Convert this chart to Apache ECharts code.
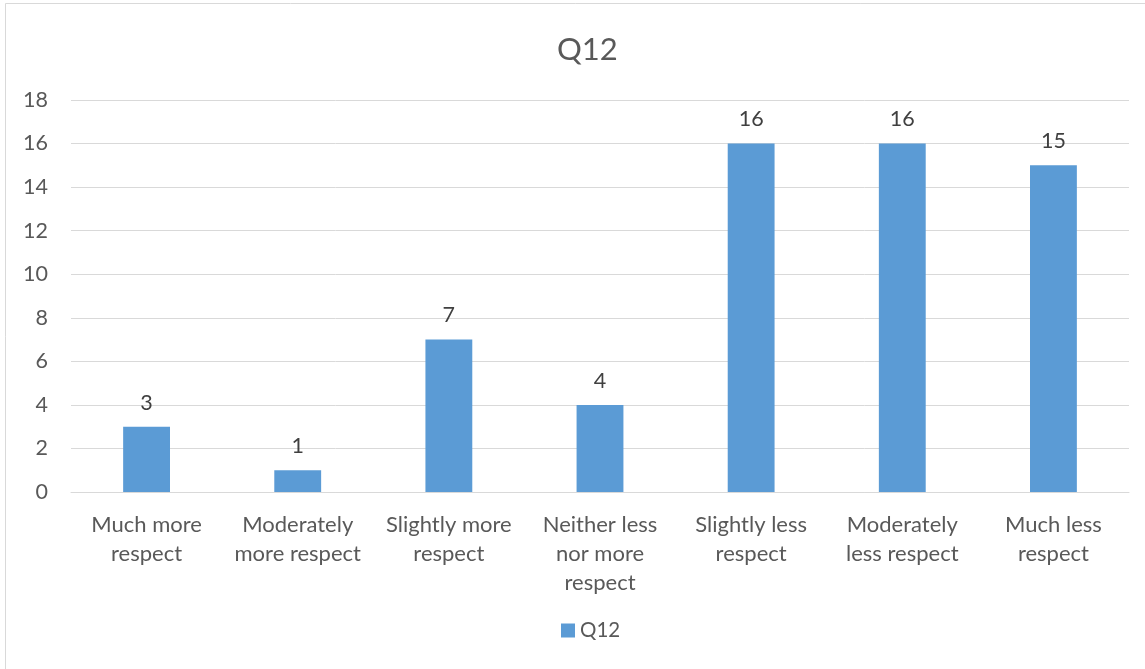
<!DOCTYPE html>
<html>
<head>
<meta charset="utf-8">
<script src="https://cdn.jsdelivr.net/npm/echarts@6/dist/echarts.min.js"></script>
<style>
  html, body { margin: 0; padding: 0; background: #fff; }
  #chart { width: 1145px; height: 669px; }
</style>
</head>
<body>
<div id="chart"></div>
<script>
// Responses to Q12
const categories = [
  'Much more\nrespect',
  'Moderately\nmore respect',
  'Slightly more\nrespect',
  'Neither less\nnor more\nrespect',
  'Slightly less\nrespect',
  'Moderately\nless respect',
  'Much less\nrespect'
];
const counts = [3, 1, 7, 4, 16, 16, 15];
const seriesName = 'Q12';
const yTicks = { min: 0, max: 18, interval: 2 };

const FONT = 'Lato, "Open Sans", sans-serif';
const TEXT = '#595959';

const chart = echarts.init(document.getElementById('chart'));
chart.setOption({
  animation: false,
  backgroundColor: '#fff',
  graphic: [{
    type: 'rect',
    shape: { x: 5.5, y: 3.5, width: 1200, height: 700 },
    style: { fill: 'none', stroke: '#D9D9D9', lineWidth: 1 },
    silent: true
  }],
  title: {
    text: 'Q12',
    left: 552,
    top: 29,
    textStyle: { fontFamily: FONT, fontSize: 31, fontWeight: 'normal', color: TEXT }
  },
  legend: {
    bottom: 23,
    left: 556,
    itemWidth: 14,
    itemHeight: 14,
    icon: 'rect',
    itemGap: 6,
    textStyle: { fontFamily: FONT, fontSize: 20.5, color: TEXT },
    data: [seriesName]
  },
  grid: { left: 71, right: 16, top: 100, bottom: 177, containLabel: false },
  xAxis: {
    type: 'category',
    data: categories,
    axisLine: { lineStyle: { color: '#D9D9D9' } },
    axisTick: { show: false },
    axisLabel: {
      interval: 0,
      margin: 18,
      fontFamily: FONT,
      fontSize: 22,
      lineHeight: 29,
      color: TEXT
    }
  },
  yAxis: {
    type: 'value',
    min: yTicks.min,
    max: yTicks.max,
    interval: yTicks.interval,
    axisLine: { show: false },
    axisTick: { show: false },
    splitLine: { lineStyle: { color: '#D9D9D9' } },
    axisLabel: { margin: 23, fontFamily: FONT, fontSize: 21.5, color: TEXT }
  },
  series: [{
    name: seriesName,
    type: 'bar',
    data: counts,
    barWidth: '31%',
    itemStyle: { color: '#5B9BD5' },
    label: {
      show: true,
      position: 'top',
      distance: 13,
      fontFamily: FONT,
      fontSize: 21.5,
      color: '#404040'
    }
  }]
});
</script>
</body>
</html>
